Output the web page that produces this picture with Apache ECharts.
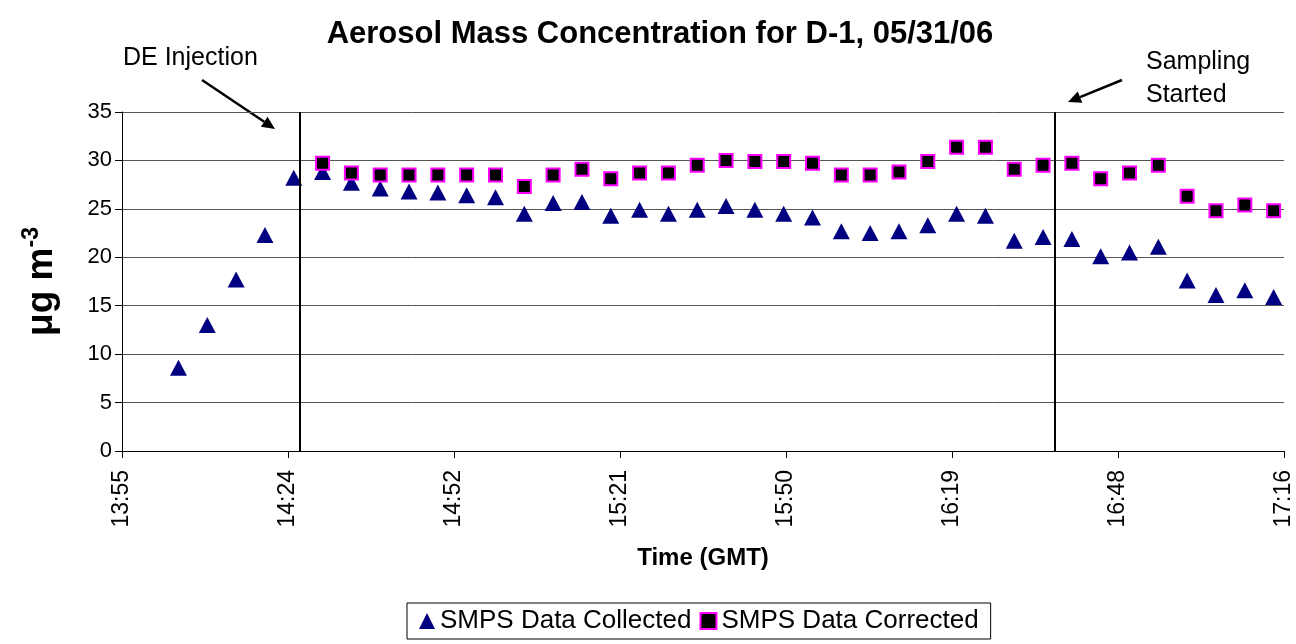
<!DOCTYPE html>
<html>
<head>
<meta charset="utf-8">
<style>
  html, body { margin: 0; padding: 0; background: #fff; }
  #chart { width: 1296px; height: 644px; }
</style>
<script src="https://cdn.jsdelivr.net/npm/echarts@6/dist/echarts.min.js"></script>
</head>
<body>
<div id="chart"></div>
<script>
// sample times (GMT)
const times = [
  '14:05', '14:10', '14:15', '14:20', '14:25', '14:30', '14:35', '14:40', '14:45', '14:50', '14:55',
  '15:00', '15:05', '15:10', '15:15', '15:20', '15:25', '15:30', '15:35', '15:40', '15:45', '15:50', '15:55',
  '16:00', '16:05', '16:10', '16:15', '16:20', '16:25', '16:30', '16:35', '16:40', '16:45', '16:50', '16:55',
  '17:00', '17:05', '17:10', '17:15'
]
const collected = [
  8.6, 13.0, 17.7, 22.3, 28.2, 28.8, 27.7, 27.1, 26.8, 26.7, 26.4,
  26.2, 24.5, 25.6, 25.7, 24.3, 24.9, 24.5, 24.9, 25.3, 24.9, 24.5, 24.1,
  22.7, 22.5, 22.7, 23.3, 24.5, 24.3, 21.7, 22.1, 21.9, 20.1, 20.5, 21.1,
  17.6, 16.1, 16.6, 15.9
]
const corrected = [
  null, null, null, null, null, 29.7, 28.7, 28.5, 28.5, 28.5, 28.5,
  28.5, 27.3, 28.5, 29.1, 28.1, 28.7, 28.7, 29.5, 30.0, 29.9, 29.9, 29.7,
  28.5, 28.5, 28.8, 29.9, 31.35, 31.35, 29.1, 29.5, 29.7, 28.1, 28.7, 29.5,
  26.3, 24.8, 25.4, 24.8
]
// event markers
const eventTimes = ['14:26', '16:37']
// axis range in minutes of day (Excel major unit 0.02 day = 28.8 min)
const xMin = 835.2
const xMax = 1036.8
const xStep = 28.8

const toMin = (s) => {
  const [h, m] = s.split(':').map(Number)
  return h * 60 + m
}
const fmt = (v) => {
  const t = Math.floor(v + 0.001)
  const h = Math.floor(t / 60)
  const m = t % 60
  return h + ':' + (m < 10 ? '0' : '') + m
}

const FONT = "'Liberation Sans', Arial, sans-serif"

const arrow = (x1, y1, x2, y2) => {
  const ang = Math.atan2(y2 - y1, x2 - x1)
  const len = 13, half = 6
  const bx = x2 - len * Math.cos(ang)
  const by = y2 - len * Math.sin(ang)
  const px = -Math.sin(ang) * half
  const py = Math.cos(ang) * half
  return [
    { type: 'line', shape: { x1, y1, x2: bx, y2: by }, style: { stroke: '#000', lineWidth: 2.5 } },
    { type: 'polygon', shape: { points: [[x2, y2], [bx + px, by + py], [bx - px, by - py]] }, style: { fill: '#000' } }
  ]
}

const chart = echarts.init(document.getElementById('chart'))

const option = {
  backgroundColor: '#fff',
  animation: false,
  title: {
    text: 'Aerosol Mass Concentration for D-1, 05/31/06',
    left: 655,
    textAlign: 'center',
    top: 14,
    textStyle: { fontFamily: FONT, fontSize: 31, fontWeight: 'bold', color: '#000' }
  },
  grid: { left: 122, right: 12, top: 112, bottom: 193 },
  xAxis: {
    type: 'value',
    min: xMin,
    max: xMax,
    interval: xStep,
    name: 'Time (GMT)',
    nameLocation: 'middle',
    nameGap: 95,
    nameTextStyle: { fontFamily: FONT, fontSize: 24, fontWeight: 'bold', color: '#000' },
    axisLine: { lineStyle: { color: '#000', width: 1 } },
    axisTick: { show: true, length: 7, lineStyle: { color: '#000' } },
    axisLabel: { rotate: 90, margin: 19, fontFamily: FONT, fontSize: 23, color: '#000', formatter: fmt },
    splitLine: { show: false }
  },
  yAxis: {
    type: 'value',
    min: 0,
    max: 35,
    interval: 5,
    name: '{a|μg m}{b|-3}',
    nameLocation: 'middle',
    nameGap: 58,
    nameRotate: 90,
    nameTextStyle: {
      rich: {
        a: { fontFamily: FONT, fontSize: 37, fontWeight: 'bold', color: '#000', lineHeight: 44 },
        b: { fontFamily: FONT, fontSize: 23, fontWeight: 'bold', color: '#000', verticalAlign: 'top', lineHeight: 44 }
      }
    },
    axisLine: { show: true, lineStyle: { color: '#000', width: 1 } },
    axisTick: { show: true, length: 7, lineStyle: { color: '#000' } },
    axisLabel: { margin: 10, fontFamily: FONT, fontSize: 22, color: '#000' },
    splitLine: { show: true, lineStyle: { color: '#555', width: 1 } }
  },
  legend: {
    left: 407,
    top: 603,
    orient: 'horizontal',
    borderColor: '#000',
    borderWidth: 1,
    padding: [5, 12, 5, 12],
    itemGap: 8,
    itemWidth: 16,
    itemHeight: 16,
    textStyle: { fontFamily: FONT, fontSize: 26, color: '#000' },
    data: [
      { name: 'SMPS Data Collected', icon: 'triangle' },
      { name: 'SMPS Data Corrected', icon: 'rect' }
    ]
  },
  series: [
    {
      name: 'SMPS Data Collected',
      type: 'scatter',
      symbol: 'triangle',
      symbolSize: [17, 16],
      itemStyle: { color: '#000080', opacity: 1 },
      data: times.map((t, i) => [toMin(t), collected[i]]),
      markLine: {
        silent: true,
        symbol: 'none',
        label: { show: false },
        lineStyle: { color: '#000', width: 2, type: 'solid' },
        data: eventTimes.map((t) => ({ xAxis: toMin(t) }))
      }
    },
    {
      name: 'SMPS Data Corrected',
      type: 'scatter',
      symbol: 'rect',
      symbolSize: 13,
      itemStyle: { color: '#000', borderColor: '#ff00ff', borderWidth: 2, opacity: 1 },
      data: times.map((t, i) => [toMin(t), corrected[i]]).filter((d) => d[1] != null)
    }
  ],
  graphic: [
    { type: 'text', left: 123, top: 46, style: { text: 'DE Injection', font: '25px ' + FONT, fill: '#000' } },
    { type: 'text', left: 1146, top: 46, style: { text: 'Sampling\nStarted', font: '25px ' + FONT, fill: '#000', lineHeight: 33 } },
    ...arrow(202, 80, 275, 129),
    ...arrow(1122, 80, 1068, 102)
  ]
}

chart.setOption(option)
window.addEventListener('resize', () => chart.resize())
</script>
</body>
</html>
